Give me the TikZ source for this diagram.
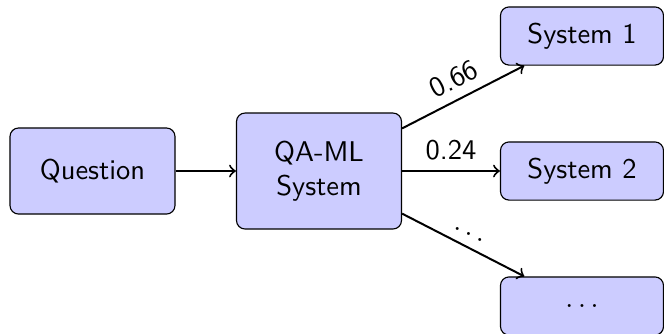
\documentclass[tikz,border=0pt]{standalone}
\begin{document}
\begin{tikzpicture}[
  x=0.3509pt, y=-0.3509pt,
  font=\sffamily,
  box/.style={draw, rounded corners=3pt, fill=blue!20, align=center,
              inner sep=2pt},
  sysbox/.style={box, minimum width=57.2pt, minimum height=20.4pt},
  link/.style={->, line width=0.7pt}
]
\useasboundingbox (0,0) rectangle (664,333);

\node[box, minimum width=57.9pt, minimum height=30.2pt] (q) at (92.5,171) {Question};
\node[box, minimum width=57.9pt, minimum height=40.7pt] (qa) at (319,171) {QA-ML\\System};
\node[sysbox] (s1) at (582,36) {System 1};
\node[sysbox] (s2) at (582,171) {System 2};
\node[sysbox] (s3) at (582,306) {$\ldots$};

\draw[link] (q) -- (qa);
\draw[link] (qa) -- node[sloped, above] {0.66} (s1);
\draw[link] (qa) -- node[above] {0.24} (s2);
\draw[link] (qa) -- node[sloped, above] {$\ldots$} (s3);
\end{tikzpicture}
\end{document}
